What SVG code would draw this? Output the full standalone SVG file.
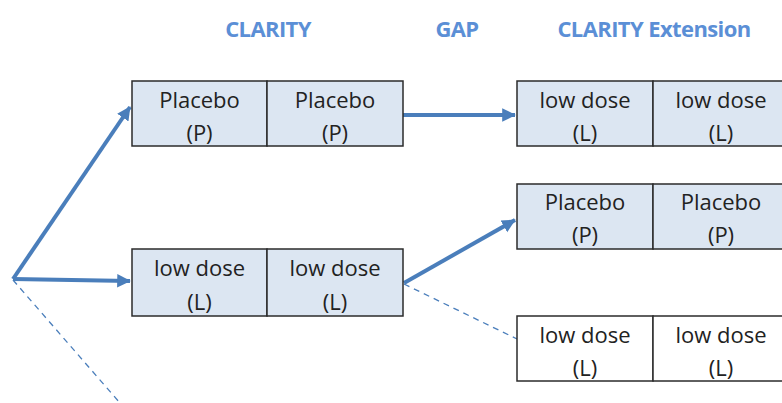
<svg xmlns="http://www.w3.org/2000/svg" width="782" height="403" viewBox="0 0 782 403">
<defs>
<style>
.title{font-family:"Open Sans","Liberation Sans",sans-serif;font-weight:bold;font-size:22px;fill:#5B8FD6;text-anchor:middle;letter-spacing:-0.6px}
.cell{stroke:#2b2b2b;stroke-width:1.5}
.blue{fill:#DCE6F2}
.white{fill:#FFFFFF}
.lbl{font-family:"Open Sans","Liberation Sans",sans-serif;font-size:22px;fill:#222;text-anchor:middle}
.arrow{stroke:#4A7EBB;stroke-width:4;fill:none}
.dash{stroke:#4A7EBB;stroke-width:1.3;fill:none;stroke-dasharray:6 5}
</style>
<marker id="ah" markerWidth="5" markerHeight="5" refX="3.2" refY="2" orient="auto" markerUnits="strokeWidth">
<path d="M0,0.3 L3.4,2 L0,3.7 Z" fill="#4A7EBB"/>
</marker>
</defs>
<rect width="782" height="403" fill="#fff"/>
<g id="titles">
<text class="title" x="268" y="37">CLARITY</text>
<text class="title" x="457" y="37">GAP</text>
<text class="title" x="654" y="37">CLARITY Extension</text>
</g>
<g id="connectors">
<line class="arrow" x1="13" y1="279" x2="130" y2="107" marker-end="url(#ah)"/>
<line class="arrow" x1="13" y1="279" x2="130" y2="281" marker-end="url(#ah)"/>
<line class="dash" x1="13" y1="280" x2="120" y2="403"/>
<line class="arrow" x1="403" y1="115" x2="515" y2="115" marker-end="url(#ah)"/>
<line class="arrow" x1="404" y1="283" x2="515" y2="220" marker-end="url(#ah)"/>
<line class="dash" x1="404" y1="284" x2="517" y2="339"/>
</g>
<g id="clarity-placebo">
<rect class="cell blue" x="132" y="81" width="135" height="65"/>
<rect class="cell blue" x="267" y="81" width="136" height="65"/>
<text class="lbl" x="199.5" y="108">Placebo</text>
<text class="lbl" x="199.5" y="141">(P)</text>
<text class="lbl" x="335" y="108">Placebo</text>
<text class="lbl" x="335" y="141">(P)</text>
</g>
<g id="clarity-low">
<rect class="cell blue" x="132" y="249" width="135" height="67"/>
<rect class="cell blue" x="267" y="249" width="136" height="67"/>
<text class="lbl" x="199.5" y="276">low dose</text>
<text class="lbl" x="199.5" y="310">(L)</text>
<text class="lbl" x="335" y="276">low dose</text>
<text class="lbl" x="335" y="310">(L)</text>
</g>
<g id="ext-low-1">
<rect class="cell blue" x="517" y="81" width="136" height="65"/>
<rect class="cell blue" x="653" y="81" width="136" height="65"/>
<text class="lbl" x="585" y="108">low dose</text>
<text class="lbl" x="585" y="141">(L)</text>
<text class="lbl" x="721" y="108">low dose</text>
<text class="lbl" x="721" y="141">(L)</text>
</g>
<g id="ext-placebo">
<rect class="cell blue" x="517" y="184" width="136" height="65"/>
<rect class="cell blue" x="653" y="184" width="136" height="65"/>
<text class="lbl" x="585" y="210">Placebo</text>
<text class="lbl" x="585" y="243">(P)</text>
<text class="lbl" x="721" y="210">Placebo</text>
<text class="lbl" x="721" y="243">(P)</text>
</g>
<g id="ext-low-2">
<rect class="cell white" x="517" y="316" width="136" height="65"/>
<rect class="cell white" x="653" y="316" width="136" height="65"/>
<text class="lbl" x="585" y="343">low dose</text>
<text class="lbl" x="585" y="376">(L)</text>
<text class="lbl" x="721" y="343">low dose</text>
<text class="lbl" x="721" y="376">(L)</text>
</g>
</svg>
